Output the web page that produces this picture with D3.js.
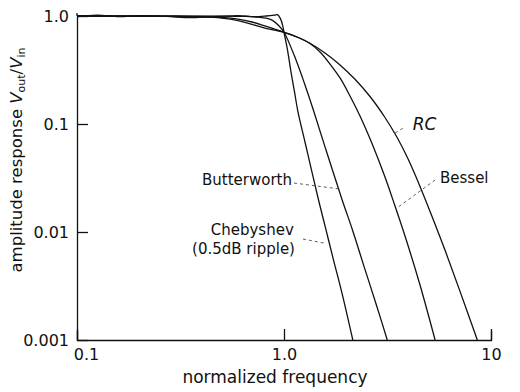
<!DOCTYPE html>
<html>
<head>
<meta charset="utf-8">
<script src="https://cdn.jsdelivr.net/npm/d3@7/dist/d3.min.js"></script>
<style>
  html, body { margin: 0; padding: 0; background: #fff; }
  svg { display: block; font-family: "DejaVu Sans", "Liberation Sans", Arial, sans-serif; }
</style>
</head>
<body>
<svg id="chart" width="520" height="392"></svg>
<script>
// Amplitude response of four 6-pole low-pass filters,
// frequency normalized to the -3 dB point.

const chebyFreq = [0.1, 0.125, 0.16, 0.2, 0.27, 0.36, 0.48, 0.6, 0.72, 0.82, 0.9, 0.93, 0.96, 0.985, 1.0,
                   1.040, 1.081, 1.124, 1.169, 1.263, 1.365, 1.476, 1.596, 1.725, 1.906, 2.15];
const chebyAmp  = [0.985, 1.02, 0.985, 1.01, 0.99, 0.965, 0.99, 1.01, 0.985, 1.0, 1.02, 1.03, 0.95, 0.82, 0.707,
                   0.484, 0.303, 0.198, 0.129, 0.0681, 0.0359, 0.01896, 0.01045, 0.00574, 0.00272, 0.001];

const butterFreq = [0.1, 0.3, 0.5, 0.65, 0.75, 0.82, 0.88, 0.94, 1.0,
                    1.143, 1.263, 1.386, 1.596, 1.91, 2.142, 2.424, 2.795, 3.155];
const butterAmp  = [1.0, 1.0, 0.999, 0.99, 0.975, 0.955, 0.91, 0.82, 0.707,
                    0.392, 0.23, 0.135, 0.0574, 0.0198, 0.01045, 0.00494, 0.00211, 0.001];

const besselFreq = [0.1, 0.2, 0.3, 0.4, 0.5, 0.6, 0.7, 0.8, 0.9, 1.0, 1.156, 1.335, 1.493, 1.668, 1.865,
                    2.084, 2.329, 2.692, 3.075, 3.438, 3.842, 4.54, 5.37];
const besselAmp  = [1.0, 0.998, 0.993, 0.985, 0.97, 0.935, 0.88, 0.815, 0.757, 0.707, 0.639, 0.556, 0.464, 0.359, 0.267,
                    0.1817, 0.1186, 0.0626, 0.0323, 0.0174, 0.00918, 0.00323, 0.001];

const rcFreq = [0.1, 0.2, 0.3, 0.4, 0.5, 0.6, 0.7, 0.8, 0.9, 1.0, 1.156, 1.335, 1.578, 1.865, 2.203,
                2.603, 3.075, 3.515, 3.972, 4.54, 5.246, 5.995, 7.085, 8.59];
const rcAmp  = [1.0, 0.997, 0.99, 0.98, 0.955, 0.905, 0.835, 0.778, 0.74, 0.707, 0.639, 0.559, 0.454, 0.352, 0.2594,
                0.1797, 0.1149, 0.0753, 0.0476, 0.02644, 0.01322, 0.0068, 0.00282, 0.001];

const xTicks = [0.1, 1, 10];
const xTickLabels = ["0.1", "1.0", "10"];
const yTicks = [1, 0.1, 0.01, 0.001];
const yTickLabels = ["1.0", "0.1", "0.01", "0.001"];

// curve labels with their leader lines, in data units (frequency, amplitude)
const labelNames  = ["RC", "Butterworth", "Bessel", "Chebyshev", "(0.5dB ripple)"];
const labelAt     = [[4.19, 0.0881], [1.093, 0.0273], [5.67, 0.0284], [1.115, 0.00938], [1.13, 0.00626]];
const labelAnchor = ["start", "end", "start", "end", "end"];
const labelItalic = [true, false, false, false, false];
const leaderFrom  = [[3.44, 0.0826], [1.118, 0.0284], [5.37, 0.0303], [1.235, 0.00861]];
const leaderTo    = [[3.84, 0.0938], [1.865, 0.0250], [3.515, 0.0167], [1.56, 0.0079]];

const series = [
  { name: "Chebyshev",   f: chebyFreq,  a: chebyAmp },
  { name: "Butterworth", f: butterFreq, a: butterAmp },
  { name: "Bessel",      f: besselFreq, a: besselAmp },
  { name: "RC",          f: rcFreq,     a: rcAmp }
];

const svg = d3.select("#chart");
const tickFont = 16;
const labelFont = 15;
const titleFont = 17;

const x = d3.scaleLog().domain([0.1, 10]).range([77, 491]);
const y = d3.scaleLog().domain([0.001, 1]).range([340, 16]);

// axes
const xAxis = d3.axisBottom(x)
  .tickValues(xTicks)
  .tickFormat((d, i) => xTickLabels[i])
  .tickSizeInner(-11)
  .tickSizeOuter(-9)
  .tickPadding(9);

const yAxis = d3.axisLeft(y)
  .tickValues(yTicks)
  .tickFormat((d, i) => yTickLabels[i])
  .tickSizeInner(-11)
  .tickSizeOuter(0)
  .tickPadding(8);

const gx = svg.append("g").attr("transform", `translate(0,${y.range()[0]})`).call(xAxis);
const gy = svg.append("g").attr("transform", `translate(${x.range()[0]},0)`).call(yAxis);

[gx, gy].forEach(g => {
  g.selectAll("path, line").attr("stroke", "#111").attr("stroke-width", 1.3);
  g.selectAll("text").attr("fill", "#111").attr("font-size", tickFont)
    .attr("font-family", "DejaVu Sans, Liberation Sans, Arial, sans-serif");
});
// first frequency label sits just right of the corner
gx.selectAll(".tick text").filter((d, i) => i === 0).attr("dx", 9);

// left axis runs a little past the top decade
svg.append("line")
  .attr("x1", x.range()[0]).attr("x2", x.range()[0])
  .attr("y1", y(1)).attr("y2", y(1) - 3)
  .attr("stroke", "#111").attr("stroke-width", 1.3);

// response curves
const line = d3.line()
  .x(d => x(d[0]))
  .y(d => y(d[1]))
  .curve(d3.curveCatmullRom.alpha(0.5));

svg.append("g").selectAll("path")
  .data(series)
  .join("path")
  .attr("d", s => line(s.f.map((f, i) => [f, s.a[i]])))
  .attr("fill", "none")
  .attr("stroke", "#111")
  .attr("stroke-width", 1.3)
  .attr("stroke-linejoin", "round");

// leader lines
svg.append("g").selectAll("line")
  .data(leaderFrom.map((p, i) => [p, leaderTo[i]]))
  .join("line")
  .attr("x1", d => x(d[0][0])).attr("y1", d => y(d[0][1]))
  .attr("x2", d => x(d[1][0])).attr("y2", d => y(d[1][1]))
  .attr("stroke", "#333")
  .attr("stroke-width", 0.8)
  .attr("stroke-dasharray", "3,3");

// curve labels
svg.append("g").selectAll("text")
  .data(labelNames)
  .join("text")
  .attr("x", (d, i) => x(labelAt[i][0]))
  .attr("y", (d, i) => y(labelAt[i][1]))
  .attr("text-anchor", (d, i) => labelAnchor[i])
  .attr("font-style", (d, i) => labelItalic[i] ? "italic" : "normal")
  .attr("font-size", (d, i) => labelItalic[i] ? 17 : labelFont)
  .attr("fill", "#111")
  .text(d => d);

// axis titles
svg.append("text")
  .attr("x", 275).attr("y", 383)
  .attr("text-anchor", "middle")
  .attr("font-size", titleFont)
  .attr("fill", "#111")
  .text("normalized frequency");

const yTitle = svg.append("text")
  .attr("transform", "translate(22,160) rotate(-90)")
  .attr("text-anchor", "middle")
  .attr("font-size", 16.5)
  .attr("fill", "#111");
yTitle.append("tspan").text("amplitude response ");
yTitle.append("tspan").attr("font-style", "italic").text("V");
yTitle.append("tspan").attr("font-size", 11).attr("dy", 3).text("out");
yTitle.append("tspan").attr("dy", -3).text("/");
yTitle.append("tspan").attr("font-style", "italic").text("V");
yTitle.append("tspan").attr("font-size", 11).attr("dy", 3).text("in");
</script>
</body>
</html>
